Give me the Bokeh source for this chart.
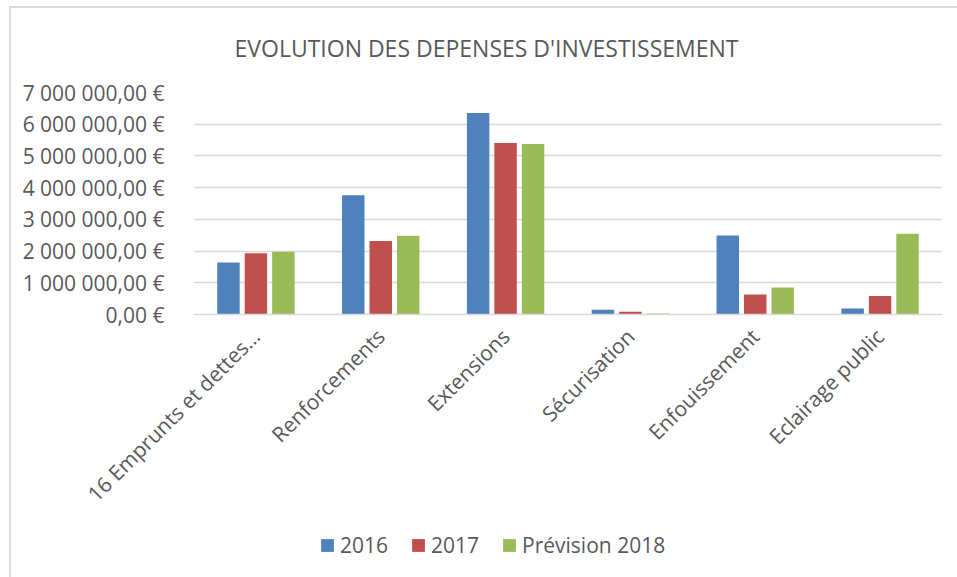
import math
from bokeh.plotting import figure
from bokeh.layouts import column
from bokeh.models import (FactorRange, Range1d, FixedTicker, Legend, LegendItem,
                          ColumnDataSource)
from bokeh.transform import dodge
from bokeh.embed import file_html
from bokeh.resources import INLINE

# ---- data ----
categories = ["16 Emprunts et dettes…", "Renforcements", "Extensions",
              "Sécurisation", "Enfouissement", "Eclairage public"]
v2016 = [1640000, 3760000, 6350000, 147000, 2490000, 190000]
v2017 = [1930000, 2320000, 5410000, 84000, 630000, 580000]
v2018 = [1980000, 2480000, 5380000, 30000, 850000, 2550000]
series_names = ["2016", "2017", "Prévision 2018"]
tick_values = [0, 1000000, 2000000, 3000000, 4000000, 5000000, 6000000, 7000000]
tick_labels = ["0,00 €", "1 000 000,00 €", "2 000 000,00 €", "3 000 000,00 €",
               "4 000 000,00 €", "5 000 000,00 €", "6 000 000,00 €", "7 000 000,00 €"]
title_text = "EVOLUTION DES DEPENSES D'INVESTISSEMENT"

colors = ["#4F81BD", "#C0504D", "#9BBB59"]
FONT = "Open Sans"
TXT = "#595959"

src = ColumnDataSource(dict(cat=categories, s0=v2016, s1=v2017, s2=v2018))

# ---- main chart ----
p = figure(x_range=FactorRange(*categories), y_range=Range1d(0, 7000000),
           width=957, height=525, output_backend="svg", toolbar_location=None,
           min_border_left=193, min_border_right=15, min_border_top=92,
           min_border_bottom=211, title=title_text)

p.title.text_font = FONT
p.title.text_font_size = "23px"
p.title.text_font_style = "normal"
p.title.text_color = TXT
p.title.align = "left"
p.title.offset = 41
p.title.standoff = 57

p.outline_line_color = None
p.background_fill_color = "white"
p.border_fill_color = None

renderers = []
offsets = [-0.22, 0.0, 0.22]
for i, (key, col) in enumerate(zip(["s0", "s1", "s2"], colors)):
    r = p.vbar(x=dodge("cat", offsets[i], range=p.x_range), top=key, width=0.18,
               source=src, fill_color=col, line_color=None)
    renderers.append(r)

p.yaxis.ticker = FixedTicker(ticks=tick_values)
p.yaxis.major_label_overrides = {v: t for v, t in zip(tick_values, tick_labels)}
p.yaxis.axis_line_color = None
p.yaxis.major_tick_line_color = None
p.yaxis.minor_tick_line_color = None
p.yaxis.major_label_standoff = 23
p.yaxis.major_label_text_font = FONT
p.yaxis.major_label_text_font_size = "21px"
p.yaxis.major_label_text_color = TXT

p.xaxis.axis_line_color = "#D9D9D9"
p.xaxis.axis_line_width = 1.5
p.xaxis.major_tick_line_color = None
p.xaxis.minor_tick_line_color = None
p.xaxis.major_label_orientation = math.pi / 4
p.xaxis.major_label_standoff = 12
p.xaxis.major_label_text_font = FONT
p.xaxis.major_label_text_font_size = "21px"
p.xaxis.major_label_text_color = TXT

p.xgrid.grid_line_color = None
p.ygrid.grid_line_color = "#D9D9D9"
p.ygrid.grid_line_width = 1.5

# ---- legend strip under the chart (its frame is aligned with the chart's frame) ----
leg = figure(width=957, height=52, output_backend="svg", toolbar_location=None,
             x_range=Range1d(0, 1), y_range=Range1d(0, 1),
             x_axis_location=None, y_axis_location=None, min_border=0)
leg.grid.visible = False
leg.outline_line_color = None
leg.background_fill_color = None
leg.border_fill_color = None
# zero-size swatch renderers outside the range; only their legend entries show
swatches = [leg.vbar(x=[-5], top=[-5], bottom=[-5], width=0.0, fill_color=c, line_color=None)
            for c in colors]

legend = Legend(items=[LegendItem(label=n, renderers=[r]) for n, r in zip(series_names, swatches)],
                orientation="horizontal", location=(126, 18))
legend.label_text_font = FONT
legend.label_text_font_size = "21px"
legend.label_text_color = TXT
legend.glyph_width = 16
legend.glyph_height = 16
legend.label_standoff = 5
legend.spacing = 22
legend.padding = 0
legend.margin = 0
legend.border_line_color = None
legend.background_fill_alpha = 0
leg.add_layout(legend)

layout = column(p, leg, spacing=0, styles={
    "background": ("linear-gradient(#D9D9D9, #D9D9D9) 9px 6px / 2px 100% no-repeat, "
                   "linear-gradient(#D9D9D9, #D9D9D9) 9px 6px / 100% 2px no-repeat, #FFFFFF")})

open("out.html", "w").write(file_html(layout, INLINE))
